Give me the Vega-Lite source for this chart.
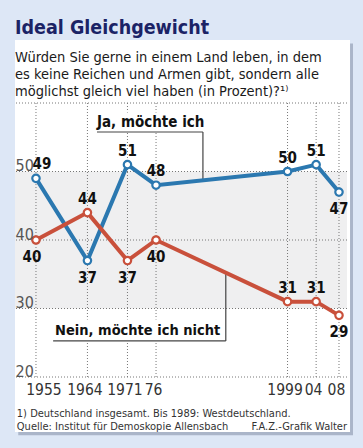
{
  "$schema": "https://vega.github.io/schema/vega-lite/v6.json",
  "width": 332,
  "height": 274,
  "autosize": {"type": "none"},
  "padding": {"left": 15, "top": 103, "right": 16, "bottom": 71},
  "background": "#dde7f6",
  "config": {"view": {"stroke": null}, "font": "DejaVu Sans Condensed"},
  "title": {
    "text": "Ideal Gleichgewicht",
    "subtitle": ["Würden Sie gerne in einem Land leben, in dem", "es keine Reichen und Armen gibt, sondern alle", "möglichst gleich viel haben (in Prozent)?¹⁾"],
    "anchor": "start",
    "frame": "group",
    "offset": -60,
    "font": "DejaVu Sans Condensed",
    "fontSize": 19.5,
    "fontWeight": "bold",
    "color": "#1b2366",
    "subtitleFont": "DejaVu Sans Condensed",
    "subtitleFontSize": 14.5,
    "subtitleColor": "#1a1a1a",
    "subtitleLineHeight": 17,
    "subtitlePadding": 13
  },
  "data": {
    "values": [
      {"year": 1955, "series": "Ja", "value": 49},
      {"year": 1964, "series": "Ja", "value": 37},
      {"year": 1971, "series": "Ja", "value": 51},
      {"year": 1976, "series": "Ja", "value": 48},
      {"year": 1999, "series": "Ja", "value": 50},
      {"year": 2004, "series": "Ja", "value": 51},
      {"year": 2008, "series": "Ja", "value": 47},
      {"year": 1955, "series": "Nein", "value": 40},
      {"year": 1964, "series": "Nein", "value": 44},
      {"year": 1971, "series": "Nein", "value": 37},
      {"year": 1976, "series": "Nein", "value": 40},
      {"year": 1999, "series": "Nein", "value": 31},
      {"year": 2004, "series": "Nein", "value": 31},
      {"year": 2008, "series": "Nein", "value": 29}
    ]
  },
  "layer": [
    {
      "data": {"values": [{}]},
      "mark": {"type": "rect", "color": "#aab5c9", "clip": false},
      "encoding": {
        "x": {"datum": 1951.9, "type": "quantitative", "scale": {"domain": [1951.33, 2009.4], "nice": false, "zero": false},
          "axis": {
            "values": [1955, 1964, 1971, 1976, 1999, 2004, 2008],
            "format": "d",
            "labelExpr": "datum.value == 1976 ? '76' : datum.value == 2004 ? '04' : datum.value == 2008 ? '08' : datum.value == 1955 ? '' : datum.label",
            "labelOffset": -3,
            "grid": false, "ticks": false, "tickSize": 0, "domain": false, "title": null,
            "labelFont": "DejaVu Sans Condensed", "labelFontSize": 15.5, "labelColor": "#333333",
            "labelPadding": 5, "labelOverlap": false, "labelFlush": false, "zindex": 1
          }
        },
        "x2": {"datum": 2010.45},
        "y": {"datum": 68.7, "type": "quantitative", "scale": {"domain": [20, 60], "nice": false, "zero": false},
          "axis": {
            "values": [20, 30, 40, 50],
            "grid": false, "ticks": false, "tickSize": 0, "domain": false, "title": null,
            "labelAlign": "left", "labelBaseline": "alphabetic", "labelPadding": 0, "labelOffset": -1,
            "labelFont": "DejaVu Sans Condensed", "labelFontSize": 16, "labelColor": "#555555", "zindex": 1
          }
        },
        "y2": {"datum": 11.5}
      }
    },
    {
      "data": {"values": [{}]},
      "mark": {"type": "rect", "color": "#ffffff", "clip": false},
      "encoding": {
        "x": {"datum": 1951.33, "type": "quantitative"},
        "x2": {"datum": 2009.93},
        "y": {"datum": 69.2, "type": "quantitative"},
        "y2": {"datum": 11.97}
      }
    },
    {
      "data": {"values": [{}]},
      "mark": {"type": "rect", "color": "#efeff0"},
      "encoding": {
        "y": {"datum": 30, "type": "quantitative"},
        "y2": {"datum": 50}
      }
    },
    {
      "data": {"values": [{"tick": 20}, {"tick": 30}, {"tick": 40}, {"tick": 50}, {"tick": 60}]},
      "mark": {"type": "rule", "color": "#777777", "strokeDash": [1, 2], "strokeWidth": 1},
      "encoding": {"y": {"field": "tick", "type": "quantitative"}}
    },
    {
      "transform": [{"filter": "datum.series == 'Ja'"}],
      "mark": {"type": "rule", "color": "#777777", "strokeDash": [1, 2], "strokeWidth": 1},
      "encoding": {"x": {"field": "year", "type": "quantitative"}}
    },
    {
      "data": {"values": [{}]},
      "mark": {"type": "rect", "color": "#ffffff"},
      "encoding": {
        "x": {"datum": 1965.0, "type": "quantitative"},
        "x2": {"datum": 1984.2},
        "y": {"datum": 55.77, "type": "quantitative"},
        "y2": {"datum": 58.6}
      }
    },
    {
      "data": {"values": [{}]},
      "mark": {"type": "rect", "color": "#ffffff"},
      "encoding": {
        "x": {"datum": 1957.6, "type": "quantitative"},
        "x2": {"datum": 1988.2},
        "y": {"datum": 25.26, "type": "quantitative"},
        "y2": {"datum": 28.4}
      }
    },
    {
      "data": {"values": [{}]},
      "mark": {"type": "rule", "color": "#444444", "strokeWidth": 1.2},
      "encoding": {
        "x": {"datum": 1965.67, "type": "quantitative"},
        "x2": {"datum": 1984.2},
        "y": {"datum": 55.77, "type": "quantitative"}
      }
    },
    {
      "data": {"values": [{}]},
      "mark": {"type": "rule", "color": "#444444", "strokeWidth": 1.2},
      "encoding": {
        "x": {"datum": 1984.2, "type": "quantitative"},
        "y": {"datum": 55.77, "type": "quantitative"},
        "y2": {"datum": 48.7}
      }
    },
    {
      "data": {"values": [{}]},
      "mark": {"type": "rule", "color": "#444444", "strokeWidth": 1.2},
      "encoding": {
        "x": {"datum": 1958.0, "type": "quantitative"},
        "x2": {"datum": 1988.2},
        "y": {"datum": 25.26, "type": "quantitative"}
      }
    },
    {
      "data": {"values": [{}]},
      "mark": {"type": "rule", "color": "#444444", "strokeWidth": 1.2},
      "encoding": {
        "x": {"datum": 1988.2, "type": "quantitative"},
        "y": {"datum": 25.26, "type": "quantitative"},
        "y2": {"datum": 35.3}
      }
    },
    {
      "mark": {"type": "line", "strokeWidth": 4},
      "encoding": {
        "x": {"field": "year", "type": "quantitative"},
        "y": {"field": "value", "type": "quantitative"},
        "color": {"field": "series", "type": "nominal", "scale": {"domain": ["Ja", "Nein"], "range": ["#2b78b0", "#c9503b"]}, "legend": null}
      }
    },
    {
      "mark": {"type": "point", "filled": false, "fill": "#ffffff", "strokeWidth": 2.2, "size": 55, "opacity": 1},
      "encoding": {
        "x": {"field": "year", "type": "quantitative"},
        "y": {"field": "value", "type": "quantitative"},
        "color": {"field": "series", "type": "nominal", "legend": null}
      }
    },
    {
      "transform": [{"filter": "datum.year != 1955 && ((datum.series == 'Ja' && datum.year != 1964 && datum.year != 2008) || (datum.series == 'Nein' && (datum.year == 1964 || datum.year == 1999 || datum.year == 2004)))"}],
      "mark": {"type": "text", "font": "DejaVu Sans Condensed", "fontSize": 15, "fontWeight": "bold", "color": "#111111", "baseline": "alphabetic", "dy": -9},
      "encoding": {
        "x": {"field": "year", "type": "quantitative"},
        "y": {"field": "value", "type": "quantitative"},
        "text": {"field": "value", "type": "quantitative"}
      }
    },
    {
      "transform": [{"filter": "datum.year != 1955 && !((datum.series == 'Ja' && datum.year != 1964 && datum.year != 2008) || (datum.series == 'Nein' && (datum.year == 1964 || datum.year == 1999 || datum.year == 2004)))"}],
      "mark": {"type": "text", "font": "DejaVu Sans Condensed", "fontSize": 15, "fontWeight": "bold", "color": "#111111", "baseline": "alphabetic", "dy": 22},
      "encoding": {
        "x": {"field": "year", "type": "quantitative"},
        "y": {"field": "value", "type": "quantitative"},
        "text": {"field": "value", "type": "quantitative"}
      }
    },
    {
      "transform": [{"filter": "datum.year == 1955 && datum.series == 'Ja'"}],
      "mark": {"type": "text", "font": "DejaVu Sans Condensed", "fontSize": 15, "fontWeight": "bold", "color": "#111111", "baseline": "alphabetic", "dy": -9, "dx": 6},
      "encoding": {
        "x": {"field": "year", "type": "quantitative"},
        "y": {"field": "value", "type": "quantitative"},
        "text": {"field": "value", "type": "quantitative"}
      }
    },
    {
      "transform": [{"filter": "datum.year == 1955 && datum.series == 'Nein'"}],
      "mark": {"type": "text", "font": "DejaVu Sans Condensed", "fontSize": 15, "fontWeight": "bold", "color": "#111111", "baseline": "alphabetic", "dy": 22, "dx": -4},
      "encoding": {
        "x": {"field": "year", "type": "quantitative"},
        "y": {"field": "value", "type": "quantitative"},
        "text": {"field": "value", "type": "quantitative"}
      }
    },
    {
      "data": {"values": [{}]},
      "mark": {"type": "text", "font": "DejaVu Sans Condensed", "fontSize": 15.5, "color": "#333333", "align": "center", "baseline": "top", "dy": 5.5, "dx": 8, "clip": false},
      "encoding": {
        "x": {"datum": 1955, "type": "quantitative"},
        "y": {"datum": 20, "type": "quantitative"},
        "text": {"value": "1955"}
      }
    },
    {
      "data": {"values": [{}]},
      "mark": {"type": "text", "font": "DejaVu Sans Condensed", "fontSize": 15, "fontWeight": "bold", "color": "#111111", "align": "left", "baseline": "alphabetic"},
      "encoding": {
        "x": {"datum": 1965.67, "type": "quantitative"},
        "y": {"datum": 56.5, "type": "quantitative"},
        "text": {"value": "Ja, möchte ich"}
      }
    },
    {
      "data": {"values": [{}]},
      "mark": {"type": "text", "font": "DejaVu Sans Condensed", "fontSize": 14.5, "fontWeight": "bold", "color": "#111111", "align": "left", "baseline": "alphabetic"},
      "encoding": {
        "x": {"datum": 1958.33, "type": "quantitative"},
        "y": {"datum": 26.13, "type": "quantitative"},
        "text": {"value": "Nein, möchte ich nicht"}
      }
    },
    {
      "data": {"values": [{}]},
      "mark": {"type": "text", "font": "DejaVu Sans Condensed", "fontSize": 11, "color": "#333333", "align": "left", "baseline": "alphabetic", "clip": false},
      "encoding": {
        "x": {"datum": 1951.65, "type": "quantitative"},
        "y": {"datum": 14.16, "type": "quantitative"},
        "text": {"value": "1) Deutschland insgesamt. Bis 1989: Westdeutschland."}
      }
    },
    {
      "data": {"values": [{}]},
      "mark": {"type": "text", "font": "DejaVu Sans Condensed", "fontSize": 11, "color": "#333333", "align": "left", "baseline": "alphabetic", "clip": false},
      "encoding": {
        "x": {"datum": 1951.65, "type": "quantitative"},
        "y": {"datum": 12.26, "type": "quantitative"},
        "text": {"value": "Quelle: Institut für Demoskopie Allensbach"}
      }
    },
    {
      "data": {"values": [{}]},
      "mark": {"type": "text", "font": "DejaVu Sans Condensed", "fontSize": 11, "color": "#333333", "align": "right", "baseline": "alphabetic", "clip": false},
      "encoding": {
        "x": {"datum": 2009.4, "type": "quantitative"},
        "y": {"datum": 12.26, "type": "quantitative"},
        "text": {"value": "F.A.Z.-Grafik Walter"}
      }
    }
  ]
}
